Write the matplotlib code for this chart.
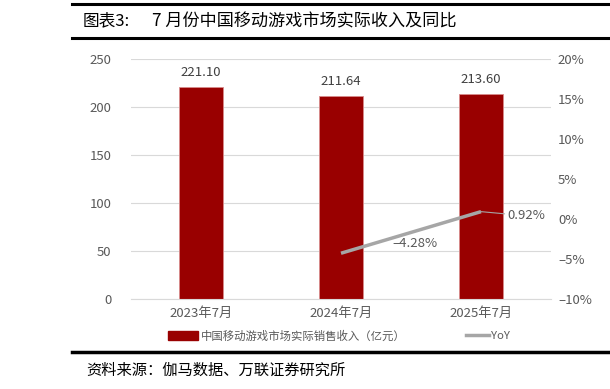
import matplotlib
matplotlib.use('Agg')
import matplotlib.pyplot as plt
from matplotlib.lines import Line2D
from matplotlib.patches import Patch

plt.rcParams['font.family'] = ['Liberation Sans Narrow', 'Noto Sans CJK SC', 'DejaVu Sans']

# Data
categories = ['2023年7月', '2024年7月', '2025年7月']
revenue = [221.10, 211.64, 213.60]
yoy_cats = ['2024年7月', '2025年7月']
yoy = [-4.28, 0.92]

bar_color = '#990000'
line_color = '#A6A6A6'
text_color = '#595959'

fig = plt.figure(figsize=(6.1, 3.89), dpi=100)
ax = fig.add_axes([131 / 610, 1 - 299 / 389, 420 / 610, 240 / 389])

x = list(range(len(categories)))
ax.bar(x, revenue, width=0.315, color=bar_color, edgecolor='#D98C8C',
       linewidth=0.6, zorder=2)
for xi, v in zip(x, revenue):
    ax.text(xi, v + 8, f'{v:.2f}', ha='center', va='bottom', fontsize=9.5,
            color='#404040')

ax.set_xlim(-0.5, 2.5)
ax.set_ylim(0, 250)
ax.set_yticks(range(0, 251, 50))
ax.set_xticks(x)
ax.set_xticklabels(categories)
ax.grid(axis='y', color='#D9D9D9', linewidth=0.8, zorder=0)
ax.set_axisbelow(True)
for s in ['top', 'right', 'left']:
    ax.spines[s].set_visible(False)
ax.spines['bottom'].set_color('#D9D9D9')
ax.tick_params(axis='both', length=0, labelsize=9.5, colors=text_color)
ax.tick_params(axis='y', pad=14)
ax.tick_params(axis='x', pad=6)

ax2 = ax.twinx()
yx = [categories.index(c) for c in yoy_cats]
ax2.plot(yx, yoy, color=line_color, linewidth=2.5, solid_capstyle='butt', zorder=3)
ax2.set_ylim(-10, 20)
ax2.set_yticks(range(-10, 21, 5))
ax2.set_yticklabels([f'{t}%'.replace('-', '–') for t in range(-10, 21, 5)])
for s in ax2.spines.values():
    s.set_visible(False)
ax2.tick_params(axis='y', length=0, labelsize=9.5, colors=text_color, pad=5)

ax2.annotate(f'{yoy[0]:.2f}%'.replace('-', '–'), xy=(yx[0], yoy[0]),
             xytext=(37, 7), textcoords='offset points', fontsize=9.5,
             color=text_color, va='center')
ax2.annotate(f'{yoy[1]:.2f}%', xy=(yx[1], yoy[1]),
             xytext=(19, -3), textcoords='offset points', fontsize=9.5,
             color=text_color, va='center',
             arrowprops=dict(arrowstyle='-', color=line_color, lw=0.8,
                             shrinkA=0, shrinkB=0))

# Legends placed separately
fig.legend([Patch(facecolor=bar_color, edgecolor=bar_color)],
           ['中国移动游戏市场实际销售收入（亿元）'],
           loc='center left', bbox_to_anchor=(168 / 610, 1 - 336 / 389),
           frameon=False, fontsize=8.2, labelcolor=text_color,
           handlelength=2.6, handleheight=0.9, handletextpad=0.3,
           borderaxespad=0, borderpad=0)
fig.legend([Line2D([0], [0], color=line_color, linewidth=2.5)], ['YoY'],
           loc='center left', bbox_to_anchor=(466 / 610, 1 - 336 / 389),
           frameon=False, fontsize=8.2, labelcolor=text_color,
           handlelength=2.0, handletextpad=0.2, borderaxespad=0, borderpad=0)

# Title frame lines
fig.add_artist(Line2D([72 / 610, 1], [1 - 4 / 389] * 2, color='black', linewidth=2.2))
fig.add_artist(Line2D([72 / 610, 1], [1 - 38 / 389] * 2, color='black', linewidth=2.2))
fig.add_artist(Line2D([72 / 610, 1], [1 - 352 / 389] * 2, color='black', linewidth=2.5))

fig.text(83 / 610, 1 - 21 / 389, '图表3:', fontsize=12, va='center', ha='left',
         color='black', family=['Noto Sans CJK SC', 'DejaVu Sans'])
fig.text(152 / 610, 1 - 21 / 389, '7 月份中国移动游戏市场实际收入及同比',
         fontsize=12.3, va='center', ha='left', color='black',
         family=['Noto Sans CJK SC', 'DejaVu Sans'])
fig.text(86 / 610, 1 - 370 / 389, '资料来源：伽马数据、万联证券研究所',
         fontsize=11, va='center', ha='left', color='black', style='italic',
         family=['Noto Sans CJK SC', 'DejaVu Sans'])

fig.savefig('out.png', dpi=100)
